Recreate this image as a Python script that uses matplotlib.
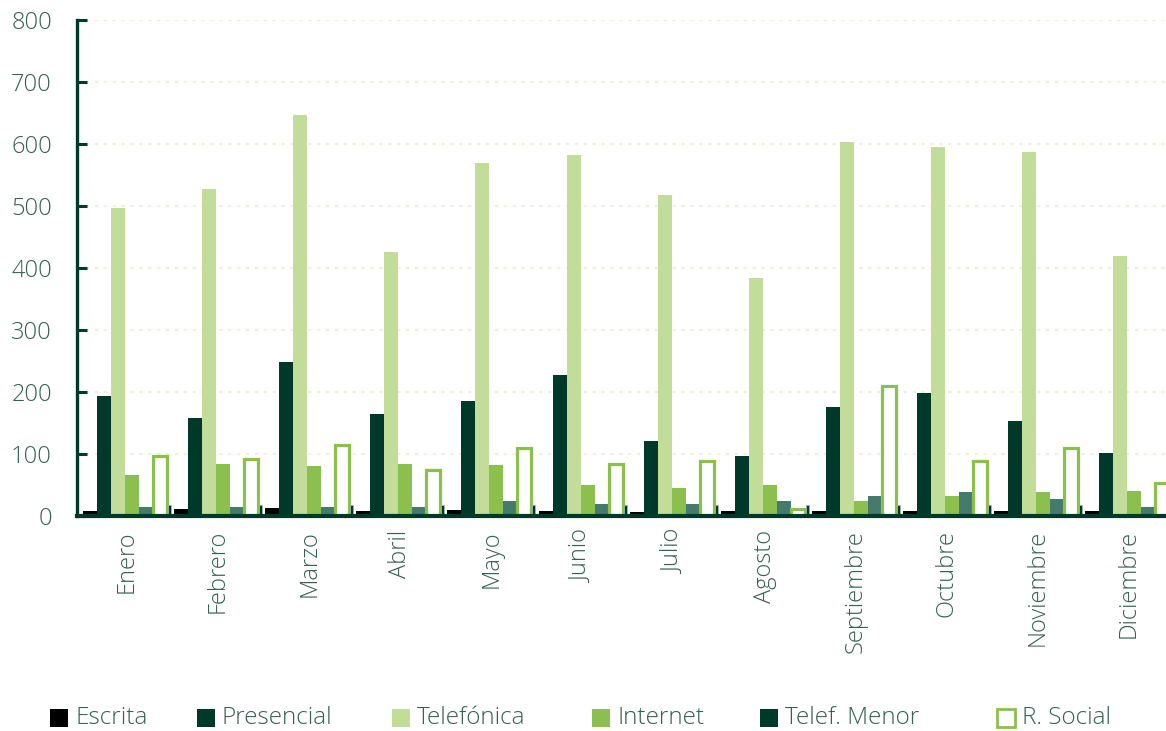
import matplotlib
matplotlib.use("Agg")
import matplotlib.pyplot as plt
from matplotlib.patches import Rectangle
import numpy as np

plt.rcParams['font.family'] = ['Open Sans', 'DejaVu Sans']

meses = ["Enero", "Febrero", "Marzo", "Abril", "Mayo", "Junio", "Julio",
         "Agosto", "Septiembre", "Octubre", "Noviembre", "Diciembre"]

escrita     = [8, 11, 13, 8, 10, 8, 7, 8, 8, 8, 8, 8]
presencial  = [194, 158, 249, 164, 185, 228, 121, 97, 176, 199, 154, 101]
telefonica  = [496, 527, 646, 426, 570, 583, 517, 384, 603, 595, 587, 420]
internet    = [66, 84, 80, 84, 82, 50, 45, 50, 24, 32, 38, 40]
telef_menor = [14, 14, 14, 14, 24, 20, 20, 24, 32, 38, 27, 14]
r_social    = [97, 92, 114, 75, 110, 84, 88, 12, 210, 88, 110, 53]
otros       = [18, 18, 18, 18, 18, 18, 18, 18, 18, 18, 18, 18]

yticks = [0, 100, 200, 300, 400, 500, 600, 700, 800]

DARK = "#00382a"
TXT = "#36604f"
W, H = 1166, 731

fig = plt.figure(figsize=(W / 100, H / 100), dpi=100)
ax = fig.add_axes([77 / W, 1 - 516 / H, 1 - 77 / W, (516 - 20) / H])

x = np.arange(len(meses))
w = 14 / 91.1
start = -44 / 91.1

series = [
    (escrita, dict(color="#000000")),
    (presencial, dict(color=DARK)),
    (telefonica, dict(color="#c2dc9a")),
    (internet, dict(color="#8cc04e")),
    (telef_menor, dict(color="#457b6c")),
    (r_social, dict(facecolor="white", edgecolor="#8cc04e", linewidth=2.3)),
]
for k, (vals, style) in enumerate(series):
    ax.bar(x + start + k * w, vals, width=w, align="edge", zorder=2, **style)

# narrow closing bar of each month
ax.bar(x + 0.467, otros, width=0.033, color=DARK, edgecolor="#9fb8ad",
       linewidth=0.6, zorder=2)

ax.set_xlim((77 - 127) / 91.1, (1166 - 127) / 91.1)
ax.set_ylim(0, 800)
ax.set_yticks(yticks)
ax.set_xticks(x)
ax.set_xticklabels(meses, rotation=90, fontsize=17, color=TXT,
                   fontweight="light", va="top")
for lbl in ax.get_yticklabels():
    lbl.set_fontsize(17)
    lbl.set_color(TXT)
    lbl.set_fontweight("light")

ax.tick_params(axis="y", direction="in", length=7, width=2.2, color=DARK, pad=18)
ax.tick_params(axis="x", length=0, pad=10)

ax.yaxis.grid(True, color="#eef0dc", linestyle=(0, (1.5, 2.5)), linewidth=1.6, zorder=0)
ax.set_axisbelow(True)

for s in ["top", "right"]:
    ax.spines[s].set_visible(False)
ax.spines["left"].set_color(DARK)
ax.spines["left"].set_linewidth(2.4)
ax.spines["bottom"].set_color(DARK)
ax.spines["bottom"].set_linewidth(3)
ax.spines["left"].set_zorder(5)
ax.spines["bottom"].set_zorder(5)

# legend row along the bottom
leyenda = [
    ("Escrita", 50, dict(facecolor="#000000", edgecolor="none")),
    ("Presencial", 197, dict(facecolor=DARK, edgecolor="none")),
    ("Telefónica", 392, dict(facecolor="#c2dc9a", edgecolor="none")),
    ("Internet", 592, dict(facecolor="#8cc04e", edgecolor="none")),
    ("Telef. Menor", 760, dict(facecolor=DARK, edgecolor="none")),
    ("R. Social", 997, dict(facecolor="white", edgecolor="#8cc04e", linewidth=2)),
]
for nombre, px, style in leyenda:
    fig.add_artist(Rectangle((px / W, 1 - 727 / H), 18 / W, 18 / H,
                             transform=fig.transFigure, **style))
    fig.text((px + 25) / W, 1 - 718 / H, nombre, fontsize=17.5, color=TXT,
             fontweight="light", va="center", ha="left")

fig.savefig("out.png", dpi=100)
